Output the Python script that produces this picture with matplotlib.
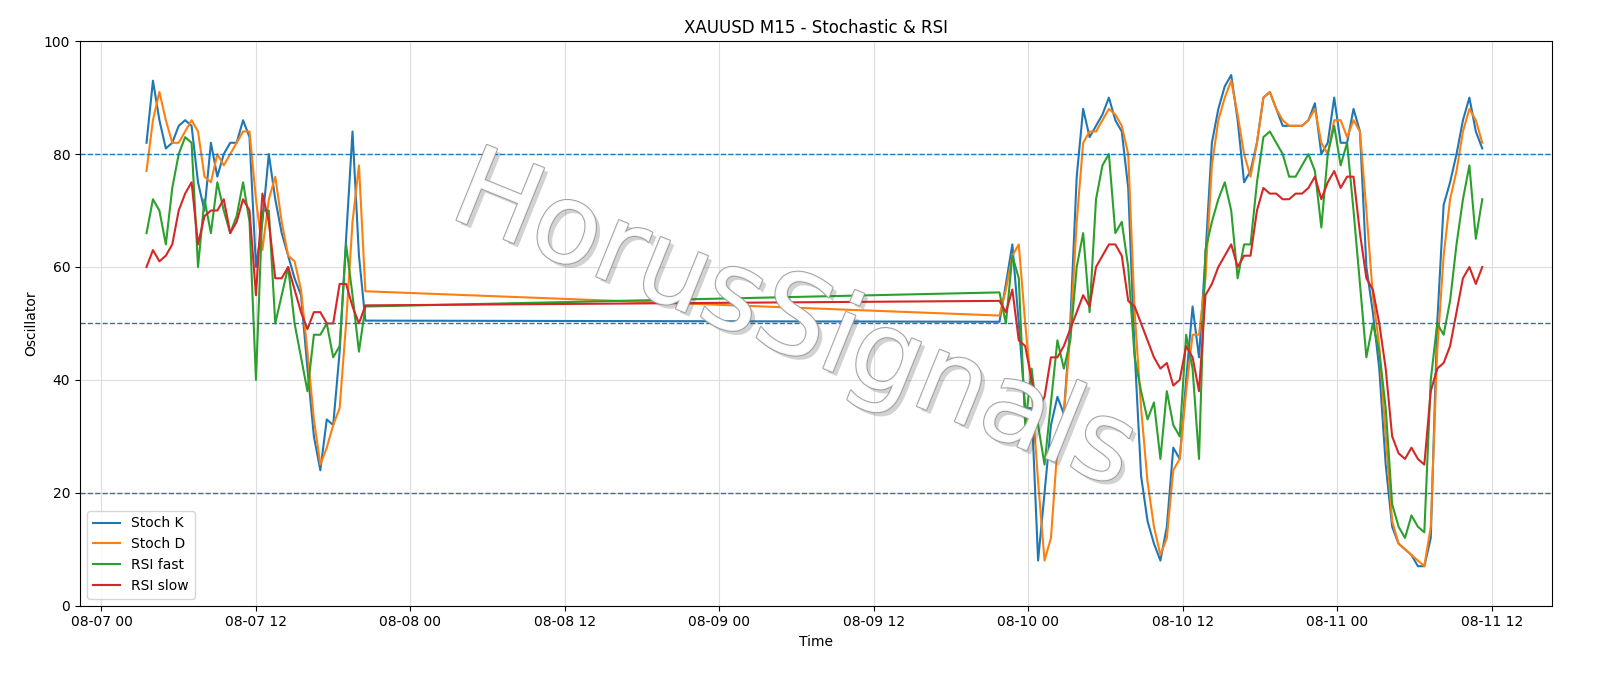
import numpy as np
import pandas as pd
import matplotlib
matplotlib.use("Agg")
import matplotlib.pyplot as plt
import matplotlib.dates as mdates
import matplotlib.patheffects as pe

# session 1: 08-07 03:30 -> 20:30, 30 min steps
t1 = pd.date_range("2025-08-07 03:30", "2025-08-07 20:30", freq="30min")
k1 = [82, 93, 86, 81, 82, 85, 86, 85, 75, 70, 82, 76, 80, 82, 82, 86, 83, 60, 68, 80,
      72, 66, 62, 58, 55, 42, 30, 24, 33, 32, 45, 65, 84, 62, 50.5]
d1 = [77, 86, 91, 86, 82, 82, 84, 86, 84, 76, 75, 80, 78, 80, 82, 84, 84, 72, 63, 72,
      76, 68, 62, 61, 56, 45, 33, 25, 28, 32, 35, 50, 68, 78, 55.7]
rf1 = [66, 72, 70, 64, 74, 80, 83, 82, 60, 72, 66, 75, 70, 66, 69, 75, 68, 40, 70, 70,
       50, 55, 60, 50, 44, 38, 48, 48, 50, 44, 46, 64, 55, 45, 53]
rs1 = [60, 63, 61, 62, 64, 70, 73, 75, 64, 69, 70, 70, 72, 66, 68, 72, 70, 55, 73, 68,
       58, 58, 60, 56, 52, 49, 52, 52, 50, 50, 57, 57, 53, 50, 53.2]

# session 2: 08-09 21:45 -> 08-11 11:15, 30 min steps
t2 = pd.date_range("2025-08-09 21:45", periods=76, freq="30min")
k2 = [50.3, 57, 64, 50, 35, 35, 8, 20, 32, 37, 34, 50, 76, 88, 83, 85, 87, 90, 86, 84,
      74, 45, 23, 15, 11, 8, 14, 28, 26, 40, 53, 44, 62, 82, 88, 92, 94, 86, 75, 77,
      82, 90, 91, 88, 85, 85, 85, 85, 86, 89, 80, 82, 90, 82, 82, 88, 84, 60, 52, 42,
      25, 14, 11, 10, 9, 7, 7, 12, 50, 71, 75, 80, 86, 90, 84, 81]
d2 = [51.4, 56, 62, 64, 50, 38, 22, 8, 12, 28, 34, 48, 68, 82, 84, 84, 86, 88, 87, 85,
      80, 52, 35, 22, 14, 9, 12, 24, 26, 38, 48, 48, 58, 78, 86, 90, 93, 87, 80, 76,
      82, 90, 91, 88, 86, 85, 85, 85, 86, 88, 82, 80, 86, 86, 83, 86, 84, 70, 55, 46,
      30, 15, 11, 10, 9, 8, 7, 14, 45, 62, 72, 77, 84, 88, 86, 82]
rf2 = [55.5, 50, 62, 58, 32, 42, 32, 25, 36, 47, 42, 47, 60, 66, 52, 72, 78, 80, 66, 68,
       60, 44, 38, 33, 36, 26, 38, 32, 30, 48, 42, 26, 63, 68, 72, 75, 70, 58, 64, 64,
       75, 83, 84, 82, 80, 76, 76, 78, 80, 77, 67, 80, 85, 78, 82, 70, 57, 44, 50, 45,
       35, 18, 14, 12, 16, 14, 13, 40, 50, 48, 54, 64, 72, 78, 65, 72]
rs2 = [54, 52, 56, 47, 46, 40, 35, 37, 44, 44, 46, 49, 52, 55, 53, 60, 62, 64, 64, 62,
       54, 53, 50, 47, 44, 42, 43, 39, 40, 46, 44, 38, 55, 57, 60, 62, 64, 60, 62, 62,
       70, 74, 73, 73, 72, 72, 73, 73, 74, 76, 72, 75, 77, 74, 76, 76, 66, 58, 56, 50,
       42, 30, 27, 26, 28, 26, 25, 38, 42, 43, 46, 52, 58, 60, 57, 60]

times = t1.append(t2)
series = {
    "Stoch K": k1 + k2,
    "Stoch D": d1 + d2,
    "RSI fast": rf1 + rf2,
    "RSI slow": rs1 + rs2,
}
colors = ["#1f77b4", "#ff7f0e", "#2ca02c", "#d62728"]

fig, ax = plt.subplots(figsize=(16, 6.86), dpi=100)
for (name, vals), c in zip(series.items(), colors):
    ax.plot(times, vals, color=c, lw=1.5, label=name)

for lvl in [20, 50, 80]:
    ax.axhline(lvl, color="#1f77b4", ls="--", lw=1)

ax.set_ylim(0, 100)
ax.set_xlim(pd.Timestamp("2025-08-06 22:20"), pd.Timestamp("2025-08-11 16:40"))
ax.xaxis.set_major_locator(mdates.HourLocator(byhour=[0, 12]))
ax.xaxis.set_major_formatter(mdates.DateFormatter("%m-%d %H"))
ax.grid(True, color="#dddddd", lw=0.8)
ax.set_title("XAUUSD M15 - Stochastic & RSI", fontsize=12)
ax.set_xlabel("Time")
ax.set_ylabel("Oscillator")
ax.legend(loc="lower left")

ax.text(0.485, 0.5, "HorusSignals", transform=ax.transAxes, fontsize=80,
        rotation=-22, ha="center", va="center", color="white", alpha=0.9,
        path_effects=[pe.SimplePatchShadow(offset=(3, -3), alpha=0.25),
                      pe.Stroke(linewidth=1.5, foreground="#999999"), pe.Normal()],
        zorder=5)

fig.subplots_adjust(left=0.05, right=0.97, top=0.94, bottom=0.117)
fig.savefig("out.png", dpi=100)
